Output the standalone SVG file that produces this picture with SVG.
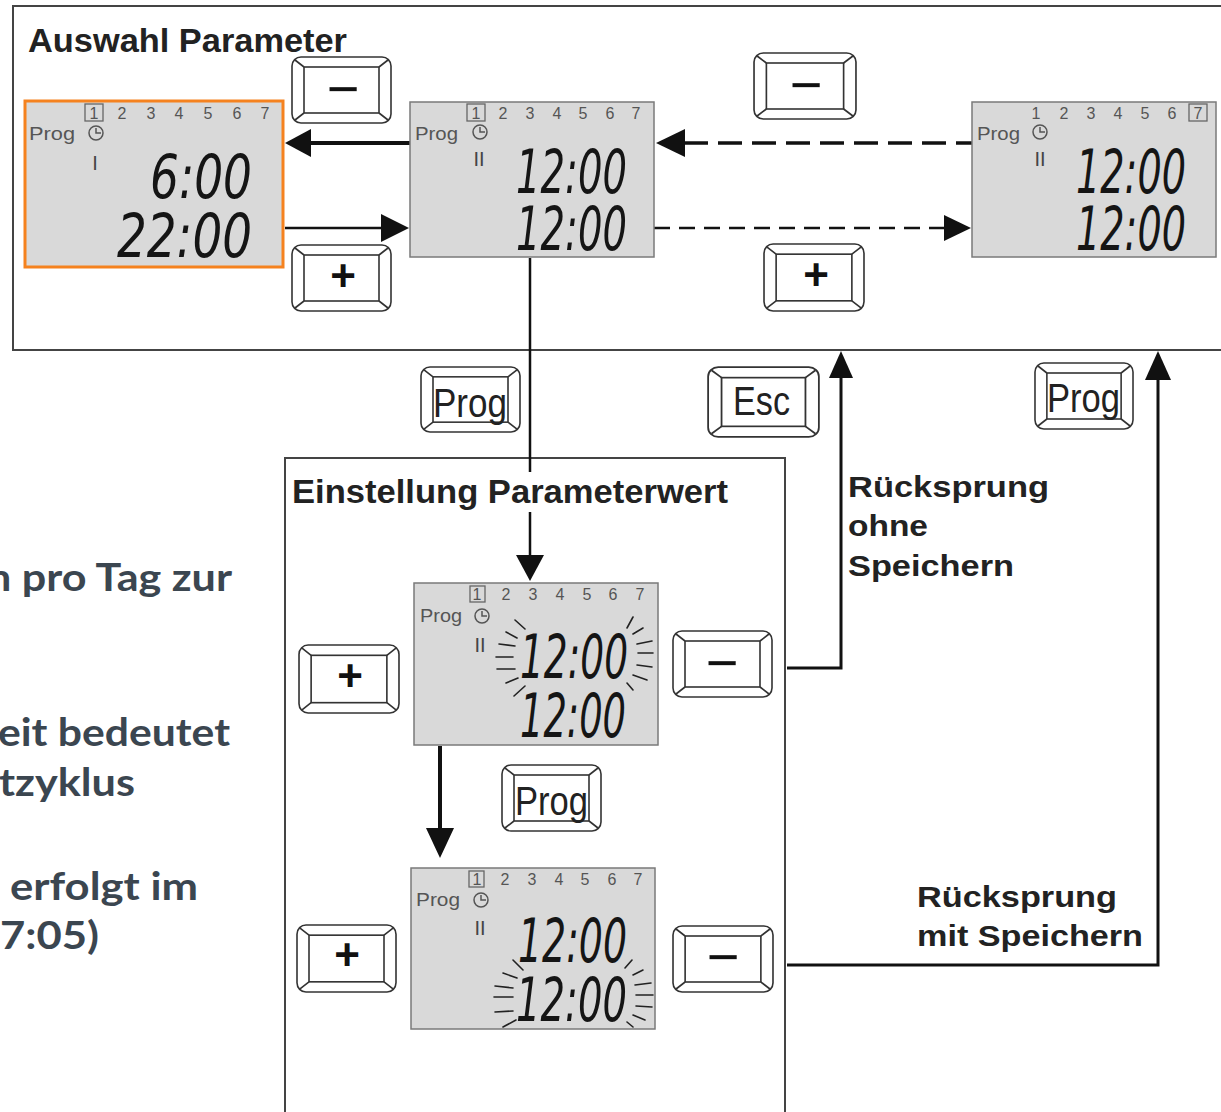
<svg xmlns="http://www.w3.org/2000/svg" xmlns:xlink="http://www.w3.org/1999/xlink" width="1221" height="1112" viewBox="0 0 1221 1112">
<style>
.frame{fill:none;stroke:#444;stroke-width:2}
.lcd{fill:#d9d9d9;stroke:#7a7a7a;stroke-width:1.5}
.day{font-family:"Liberation Sans",Arial,sans-serif;font-size:16px;fill:#555;text-anchor:middle}
.dbox{fill:none;stroke:#666;stroke-width:1.3}
.prg{font-family:"Liberation Sans",Arial,sans-serif;font-size:18px;fill:#555}
.bar{font-family:"Liberation Sans",Arial,sans-serif;font-size:20px;fill:#444;text-anchor:middle}
.clk{fill:none;stroke:#555;stroke-width:1.5}
.seg{font-family:"DejaVu Sans",sans-serif;font-style:italic;font-size:60px;fill:#151515}
.ray{stroke:#222;stroke-width:1.6;stroke-linecap:round}
.key{font-family:"Liberation Sans",Arial,sans-serif;font-size:40px;fill:#222}
.plus{font-family:"Liberation Sans",Arial,sans-serif;font-size:44px;font-weight:bold;fill:#111;text-anchor:middle}
.minus{font-family:"Liberation Sans",Arial,sans-serif;font-size:56px;fill:#111;text-anchor:middle}
.title{font-family:"Liberation Sans",Arial,sans-serif;font-weight:bold;font-size:33px;fill:#222}
.lbl{font-family:"Liberation Sans",Arial,sans-serif;font-weight:bold;font-size:30px;fill:#222}
.side{font-family:Lato,"Open Sans",sans-serif;font-weight:bold;font-size:39px;fill:#3b4650}
.ln{fill:none;stroke:#111}
.head{fill:#111}
</style>
<defs>
<symbol id="keycap" viewBox="0 0 101 68" preserveAspectRatio="none">
<rect x="1" y="1" width="99" height="66" rx="9" fill="#fff" stroke="#333" stroke-width="1.6"/>
<rect x="13" y="11" width="75" height="46" fill="none" stroke="#333" stroke-width="1.6"/>
<path d="M4,4 L13,11 M97,4 L88,11 M4,64 L13,57 M97,64 L88,57" stroke="#333" stroke-width="1.6" fill="none"/>
</symbol>
</defs>

<!-- side text (cut off on left) -->
<g id="sidetext">
<text class="side" x="-13" y="591" textLength="245" lengthAdjust="spacingAndGlyphs">n pro Tag zur</text>
<text class="side" x="-2" y="746" textLength="232" lengthAdjust="spacingAndGlyphs">eit bedeutet</text>
<text class="side" x="-1" y="796" textLength="136" lengthAdjust="spacingAndGlyphs">tzyklus</text>
<text class="side" x="10" y="900" textLength="188" lengthAdjust="spacingAndGlyphs">erfolgt im</text>
<text class="side" x="0" y="949" textLength="99" lengthAdjust="spacingAndGlyphs">7:05)</text>
</g>

<!-- frames -->
<g id="frame-auswahl">
<rect class="frame" x="13" y="6" width="1215" height="344"/>
<text class="title" x="28" y="52" textLength="319" lengthAdjust="spacingAndGlyphs">Auswahl Parameter</text>
</g>
<g id="frame-einstellung">
<path class="frame" d="M285,1115 V458 H785 V1115" stroke-width="2.5"/>
<text class="title" x="292" y="503" textLength="436" lengthAdjust="spacingAndGlyphs">Einstellung Parameterwert</text>
</g>

<!-- connectors -->
<g id="connectors">
<line class="ln" x1="308" y1="143" x2="410" y2="143" stroke-width="4"/>
<polygon class="head" points="285,143 311,129 311,157"/>
<line class="ln" x1="285" y1="228" x2="383" y2="228" stroke-width="2.5"/>
<polygon class="head" points="409,228 381,214 381,242"/>
<line class="ln" x1="684" y1="143" x2="972" y2="143" stroke-width="3.5" stroke-dasharray="24 10"/>
<polygon class="head" points="656,143 685,129 685,157"/>
<line class="ln" x1="654" y1="228" x2="945" y2="228" stroke-width="2.5" stroke-dasharray="16 9"/>
<polygon class="head" points="971,228 944,215 944,241"/>
<path class="ln" d="M530,258 V472 M530,512 V557" stroke-width="2.5"/>
<polygon class="head" points="530,581 516,555 544,555"/>
<path class="ln" d="M787,668 H841 V376" stroke-width="3"/>
<polygon class="head" points="841,351 829,378 853,378"/>
<path class="ln" d="M787,965 H1158 V378" stroke-width="3"/>
<polygon class="head" points="1158,351 1145,380 1171,380"/>
<line class="ln" x1="440" y1="746" x2="440" y2="830" stroke-width="4"/>
<polygon class="head" points="440,858 426,828 454,828"/>
</g>

<!-- LCD 1 (selected) -->
<g id="lcd1">
<rect x="25" y="101" width="258" height="166" fill="#d9d9d9" stroke="#f5821f" stroke-width="3"/>
<rect class="dbox" x="85" y="104" width="18" height="17"/>
<text class="day" x="94" y="119">1</text><text class="day" x="122" y="119">2</text><text class="day" x="151" y="119">3</text><text class="day" x="179" y="119">4</text><text class="day" x="208" y="119">5</text><text class="day" x="237" y="119">6</text><text class="day" x="265" y="119">7</text>
<text class="prg" x="29" y="140" textLength="46" lengthAdjust="spacingAndGlyphs">Prog</text>
<circle class="clk" cx="96" cy="133" r="7"/><path class="clk" d="M96,128 V133 H101"/>
<text class="bar" x="95" y="170">I</text>
<text class="seg" x="150" y="198" textLength="102" lengthAdjust="spacingAndGlyphs">6:00</text>
<text class="seg" x="117" y="257" textLength="135" lengthAdjust="spacingAndGlyphs">22:00</text>
</g>

<!-- LCD 2 -->
<g id="lcd2">
<rect class="lcd" x="410" y="102" width="244" height="155"/>
<rect class="dbox" x="467" y="104" width="18" height="17"/>
<text class="day" x="476" y="119">1</text><text class="day" x="503" y="119">2</text><text class="day" x="530" y="119">3</text><text class="day" x="557" y="119">4</text><text class="day" x="583" y="119">5</text><text class="day" x="610" y="119">6</text><text class="day" x="636" y="119">7</text>
<text class="prg" x="415" y="140" textLength="43" lengthAdjust="spacingAndGlyphs">Prog</text>
<circle class="clk" cx="480" cy="132" r="7"/><path class="clk" d="M480,127 V132 H485"/>
<text class="bar" x="479" y="166">II</text>
<text class="seg" x="516" y="193" textLength="111" lengthAdjust="spacingAndGlyphs">12:00</text>
<text class="seg" x="516" y="250" textLength="111" lengthAdjust="spacingAndGlyphs">12:00</text>
</g>

<!-- LCD 3 -->
<g id="lcd3">
<rect class="lcd" x="972" y="102" width="244" height="155"/>
<rect class="dbox" x="1189" y="104" width="18" height="17"/>
<text class="day" x="1036" y="119">1</text><text class="day" x="1064" y="119">2</text><text class="day" x="1091" y="119">3</text><text class="day" x="1118" y="119">4</text><text class="day" x="1145" y="119">5</text><text class="day" x="1172" y="119">6</text><text class="day" x="1198" y="119">7</text>
<text class="prg" x="977" y="140" textLength="43" lengthAdjust="spacingAndGlyphs">Prog</text>
<circle class="clk" cx="1040" cy="132" r="7"/><path class="clk" d="M1040,127 V132 H1045"/>
<text class="bar" x="1040" y="166">II</text>
<text class="seg" x="1076" y="193" textLength="110" lengthAdjust="spacingAndGlyphs">12:00</text>
<text class="seg" x="1076" y="250" textLength="110" lengthAdjust="spacingAndGlyphs">12:00</text>
</g>

<!-- LCD 4 -->
<g id="lcd4">
<rect class="lcd" x="414" y="583" width="244" height="162"/>
<rect class="dbox" x="470" y="586" width="15" height="16"/>
<text class="day" x="477" y="600">1</text><text class="day" x="506" y="600">2</text><text class="day" x="533" y="600">3</text><text class="day" x="560" y="600">4</text><text class="day" x="587" y="600">5</text><text class="day" x="613" y="600">6</text><text class="day" x="640" y="600">7</text>
<text class="prg" x="420" y="622" textLength="42" lengthAdjust="spacingAndGlyphs">Prog</text>
<circle class="clk" cx="482" cy="616" r="7"/><path class="clk" d="M482,611 V616 H487"/>
<text class="bar" x="480" y="652">II</text>
<text class="seg" x="520" y="678" textLength="108" lengthAdjust="spacingAndGlyphs">12:00</text>
<text class="seg" x="520" y="737" textLength="106" lengthAdjust="spacingAndGlyphs">12:00</text>
<path class="ray" d="M515,620 L525,629 M506,632 L517,638 M499,644 L515,646 M496,657 L513,657 M497,669 L515,669 M506,683 L518,678 M514,696 L525,686 M633,617 L627,628 M643,628 L633,634 M652,641 L637,644 M653,653 L638,653 M652,667 L637,665 M647,680 L633,675 M633,690 L627,683"/>
</g>

<!-- LCD 5 -->
<g id="lcd5">
<rect class="lcd" x="411" y="868" width="244" height="161"/>
<rect class="dbox" x="469" y="871" width="15" height="16"/>
<text class="day" x="477" y="885">1</text><text class="day" x="505" y="885">2</text><text class="day" x="532" y="885">3</text><text class="day" x="559" y="885">4</text><text class="day" x="585" y="885">5</text><text class="day" x="612" y="885">6</text><text class="day" x="638" y="885">7</text>
<text class="prg" x="416" y="906" textLength="44" lengthAdjust="spacingAndGlyphs">Prog</text>
<circle class="clk" cx="481" cy="900" r="7"/><path class="clk" d="M481,895 V900 H486"/>
<text class="bar" x="480" y="935">II</text>
<text class="seg" x="518" y="962" textLength="109" lengthAdjust="spacingAndGlyphs">12:00</text>
<text class="seg" x="516" y="1021" textLength="111" lengthAdjust="spacingAndGlyphs">12:00</text>
<path class="ray" d="M513,960 L523,970 M503,973 L517,978 M495,986 L513,988 M494,997 L513,997 M495,1012 L513,1011 M503,1027 L516,1020 M632,960 L625,968 M643,970 L633,975 M651,983 L635,985 M653,995 L636,995 M652,1007 L636,1006 M645,1020 L633,1015 M633,1027 L627,1022"/>
</g>

<!-- keys -->
<g id="key-minus-1"><use xlink:href="#keycap" href="#keycap" x="291" y="56" width="101" height="68"/><text class="minus" x="343" y="108">−</text></g>
<g id="key-plus-1"><use xlink:href="#keycap" href="#keycap" x="291" y="244" width="101" height="68"/><text class="plus" x="343" y="291">+</text></g>
<g id="key-minus-2"><use xlink:href="#keycap" href="#keycap" x="753" y="52" width="104" height="68"/><text class="minus" x="806" y="104">−</text></g>
<g id="key-plus-2"><use xlink:href="#keycap" href="#keycap" x="763" y="243" width="102" height="69"/><text class="plus" x="816" y="290">+</text></g>
<g id="key-prog-1"><use xlink:href="#keycap" href="#keycap" x="420" y="366" width="101" height="67"/><text class="key" x="433" y="417" textLength="74" lengthAdjust="spacingAndGlyphs">Prog</text></g>
<g id="key-esc"><use xlink:href="#keycap" href="#keycap" x="707" y="366" width="113" height="72"/><text class="key" x="733" y="415" textLength="57" lengthAdjust="spacingAndGlyphs">Esc</text></g>
<g id="key-prog-2"><use xlink:href="#keycap" href="#keycap" x="1034" y="362" width="100" height="68"/><text class="key" x="1047" y="412" textLength="73" lengthAdjust="spacingAndGlyphs">Prog</text></g>
<g id="key-plus-3"><use xlink:href="#keycap" href="#keycap" x="298" y="644" width="102" height="70"/><text class="plus" x="350" y="691">+</text></g>
<g id="key-minus-3"><use xlink:href="#keycap" href="#keycap" x="672" y="630" width="101" height="68"/><text class="minus" x="722" y="682">−</text></g>
<g id="key-prog-3"><use xlink:href="#keycap" href="#keycap" x="501" y="764" width="101" height="68"/><text class="key" x="515" y="815" textLength="73" lengthAdjust="spacingAndGlyphs">Prog</text></g>
<g id="key-plus-4"><use xlink:href="#keycap" href="#keycap" x="296" y="924" width="101" height="69"/><text class="plus" x="347" y="970">+</text></g>
<g id="key-minus-4"><use xlink:href="#keycap" href="#keycap" x="672" y="925" width="102" height="68"/><text class="minus" x="723" y="976">−</text></g>

<!-- labels -->
<g id="label-ohne">
<text class="lbl" x="848" y="497" textLength="201" lengthAdjust="spacingAndGlyphs">Rücksprung</text>
<text class="lbl" x="848" y="536" textLength="80" lengthAdjust="spacingAndGlyphs">ohne</text>
<text class="lbl" x="848" y="576" textLength="166" lengthAdjust="spacingAndGlyphs">Speichern</text>
</g>
<g id="label-mit">
<text class="lbl" x="917" y="907" textLength="200" lengthAdjust="spacingAndGlyphs">Rücksprung</text>
<text class="lbl" x="917" y="946" textLength="226" lengthAdjust="spacingAndGlyphs">mit Speichern</text>
</g>
</svg>
